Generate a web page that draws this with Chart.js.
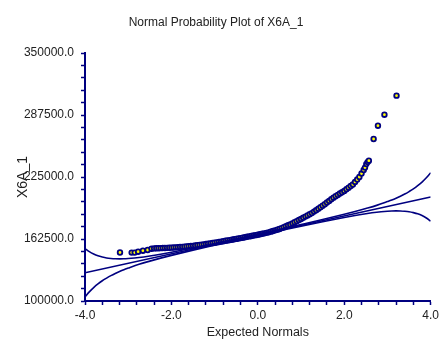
<!DOCTYPE html>
<html>
<head>
<meta charset="utf-8">
<title>Normal Probability Plot of X6A_1</title>
<script src="https://cdn.jsdelivr.net/npm/chart.js@4.4.1/dist/chart.umd.min.js"></script>
<style>
  html, body { margin: 0; padding: 0; background: #fff; }
  canvas { display: block; }
</style>
</head>
<body>
<canvas id="probPlot" width="442" height="343"></canvas>
<script>
// expected normal scores and the sorted X6A_1 values at those scores
const normalScores = [
  -3.19, -2.92, -2.85, -2.77, -2.66, -2.55, -2.46,
  -2.40, -2.35, -2.30, -2.25, -2.20, -2.15, -2.10, -2.05, -2.00, -1.95,
  -1.90, -1.85, -1.80, -1.75, -1.70, -1.65, -1.60, -1.55, -1.50, -1.45,
  -1.40, -1.35, -1.30, -1.25, -1.20, -1.15, -1.10, -1.05, -1.00, -0.95,
  -0.90, -0.85, -0.80, -0.75, -0.70, -0.65, -0.60, -0.55, -0.50, -0.45,
  -0.40, -0.35, -0.30, -0.25, -0.20, -0.15, -0.10, -0.05, 0.00, 0.05,
  0.10, 0.15, 0.20, 0.25, 0.30, 0.35, 0.40, 0.45, 0.50, 0.55,
  0.60, 0.65, 0.70, 0.75, 0.80, 0.85, 0.90, 0.95, 1.00, 1.05,
  1.10, 1.15, 1.20, 1.25, 1.30, 1.35, 1.40, 1.45, 1.50, 1.55,
  1.60, 1.65, 1.70, 1.75, 1.80, 1.85, 1.90, 1.95, 2.00, 2.05,
  2.10, 2.15, 2.20, 2.25, 2.30, 2.35, 2.40, 2.45, 2.48, 2.51,
  2.54, 2.57, 2.68, 2.78, 2.93, 3.21
];
const x6aValues = [
  148900, 148800, 148800, 149700, 150700, 151400, 152700,
  153000, 153100, 153200, 153300, 153400, 153500, 153600, 153700, 153800, 154000,
  154100, 154300, 154500, 154600, 154800, 155000, 155200, 155400, 155600, 155900,
  156200, 156500, 156800, 157100, 157400, 157700, 158100, 158400, 158700, 159100,
  159500, 159900, 160300, 160700, 161000, 161400, 161800, 162200, 162600, 163000,
  163400, 163800, 164300, 164700, 165100, 165500, 166000, 166400, 166800, 167300,
  167800, 168200, 168700, 169200, 169900, 170600, 171200, 171900, 172600, 173500,
  174400, 175400, 176300, 177200, 178300, 179400, 180500, 181600, 182700, 183900,
  185100, 186200, 187400, 188600, 190100, 191600, 193000, 194500, 196000, 197600,
  199300, 200900, 202600, 204200, 205600, 206900, 208300, 209600, 211000, 212600,
  214200, 215900, 217500, 220000, 222500, 225000, 228500, 232000, 234500, 238000,
  240000, 241500, 263300, 276700, 287800, 307000
];

// reference line and its confidence limits
const fitLineZ = [-4, 4];
const fitLineY = [128500, 204900];

const bandZ = [
  -4.0, -3.9, -3.8, -3.7, -3.6, -3.5, -3.4, -3.3, -3.2, -3.1, -3.0,
  -2.75, -2.5, -2.25, -2.0, -1.5, -1.0, -0.5, 0.0, 0.5, 1.0, 1.5, 2.0,
  2.25, 2.5, 2.75, 3.0, 3.1, 3.2, 3.3, 3.4, 3.5, 3.6, 3.7, 3.8, 3.9, 4.0
];
const upperLimit = [
  152900, 149700, 147300, 145500, 144300, 143400, 142900, 142600, 142500, 142600, 142900,
  143900, 145400, 147200, 149200, 153500, 158000, 162700, 167400, 172200, 177100, 182100, 187400,
  190200, 193200, 196400, 200200, 201800, 203600, 205600, 207800, 210300, 213000, 216200, 219900, 224200, 229300
];
const lowerLimit = [
  104100, 109200, 113500, 117200, 120400, 123100, 125600, 127800, 129800, 131600, 133200,
  137000, 140200, 143200, 146000, 151300, 156300, 161200, 166000, 170700, 175400, 179900, 184200,
  186200, 188000, 189500, 190500, 190800, 190900, 190800, 190500, 190000, 189100, 187900, 186100, 183700, 180500
];

// axis ticks
const xLabelled = [-4, -2, 0, 2, 4];
const yLabelled = [100000, 162500, 225000, 287500, 350000];

const NAVY = '#000080';
const FONT = "'Liberation Sans', Arial, sans-serif";

const toPoints = (xs, ys) => xs.map((x, i) => ({ x: x, y: ys[i] }));

const lineStyle = {
  showLine: true,
  pointRadius: 0,
  borderColor: NAVY,
  borderWidth: 1.6,
  cubicInterpolationMode: 'monotone',
  fill: false
};

new Chart(document.getElementById('probPlot'), {
  type: 'scatter',
  data: {
    datasets: [
      Object.assign({ label: 'Upper', data: toPoints(bandZ, upperLimit) }, lineStyle),
      Object.assign({ label: 'Line', data: toPoints(fitLineZ, fitLineY) }, lineStyle),
      Object.assign({ label: 'Lower', data: toPoints(bandZ, lowerLimit) }, lineStyle),
      {
        label: 'X6A_1',
        data: toPoints(normalScores, x6aValues),
        pointStyle: 'circle',
        pointRadius: 2.3,
        pointBorderWidth: 1.8,
        pointBackgroundColor: '#ffff00',
        pointBorderColor: NAVY,
        pointHoverRadius: 2.3
      }
    ]
  },
  options: {
    responsive: false,
    devicePixelRatio: 1,
    animation: false,
    events: [],
    layout: { padding: { left: 0, right: 10, top: 0, bottom: 0 } },
    plugins: {
      legend: { display: false },
      tooltip: { enabled: false },
      title: {
        display: true,
        text: 'Normal Probability Plot of X6A_1',
        color: '#222',
        font: { family: FONT, size: 12, weight: 'normal' },
        padding: { top: 15, bottom: 23.6 }
      }
    },
    scales: {
      x: {
        type: 'linear',
        min: -4,
        max: 4,
        afterFit: s => { s.height = 42; },
        border: { display: true, color: NAVY, width: 2 },
        grid: { drawOnChartArea: false, drawTicks: true, tickLength: 4, tickColor: NAVY, tickWidth: 1.5 },
        ticks: {
          stepSize: 0.4,
          autoSkip: false,
          maxRotation: 0,
          padding: 3,
          color: '#222',
          font: { family: FONT, size: 12 },
          callback: v => xLabelled.some(t => Math.abs(t - v) < 1e-6) ? Number(v).toFixed(1) : ''
        },
        title: {
          display: true,
          text: 'Expected Normals',
          color: '#222',
          font: { family: FONT, size: 12.5 },
          padding: { top: 0, bottom: 2.5 }
        }
      },
      y: {
        type: 'linear',
        min: 100000,
        max: 350000,
        afterFit: s => { s.width = 85; },
        border: { display: true, color: NAVY, width: 2 },
        grid: { drawOnChartArea: false, drawTicks: true, tickLength: 4, tickColor: NAVY, tickWidth: 1.5 },
        ticks: {
          stepSize: 12500,
          autoSkip: false,
          padding: 7,
          color: '#222',
          font: { family: FONT, size: 12 },
          callback: v => yLabelled.includes(v) ? Number(v).toFixed(1) : ''
        },
        title: {
          display: true,
          text: 'X6A_1',
          color: '#222',
          font: { family: FONT, size: 14 },
          padding: { top: 15, bottom: 0 }
        }
      }
    }
  }
});
</script>
</body>
</html>
